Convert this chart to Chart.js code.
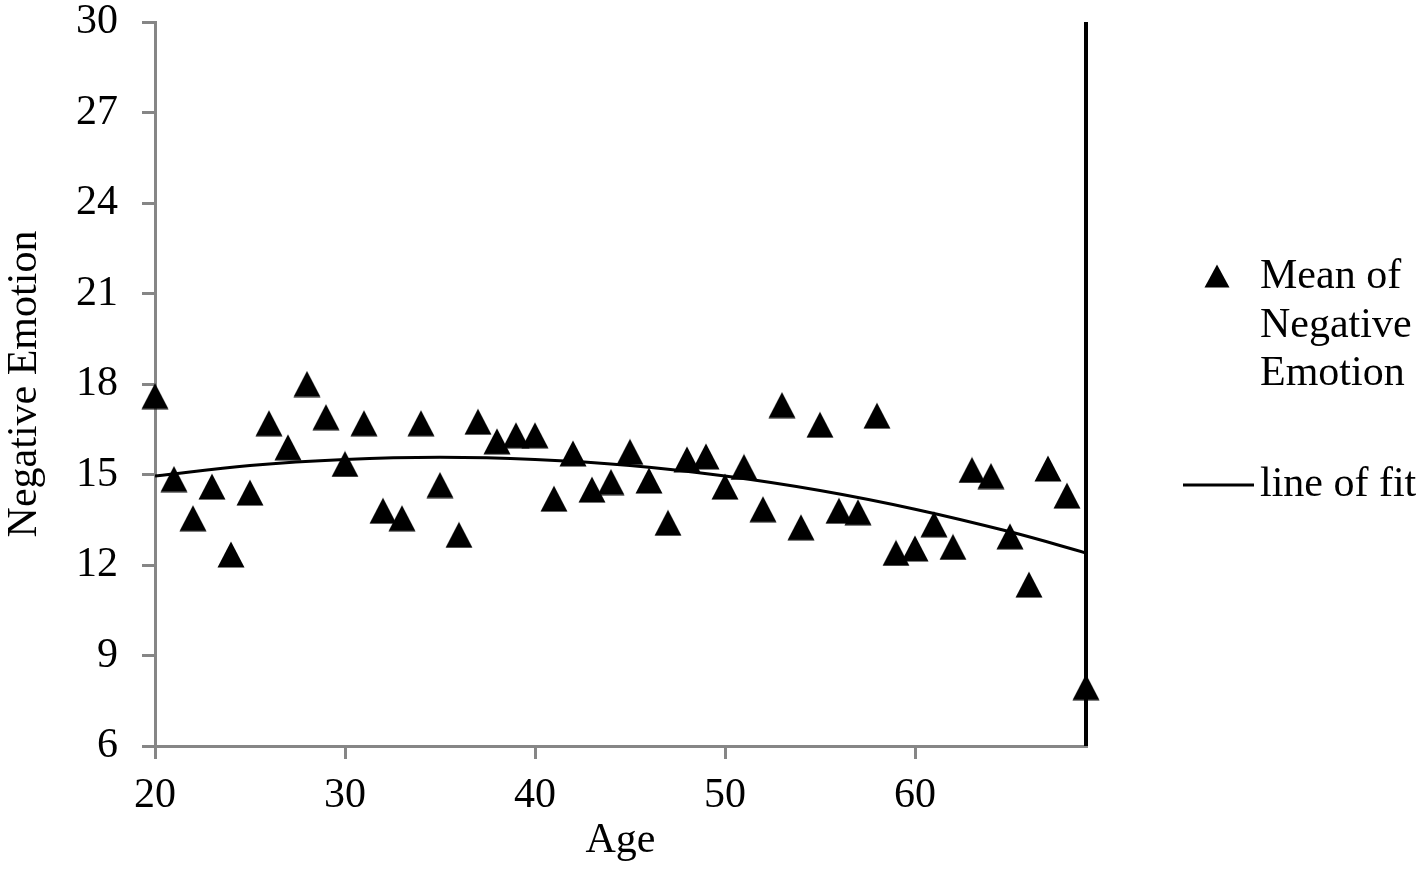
<!DOCTYPE html>
<html>
<head>
<meta charset="utf-8">
<script src="https://cdn.jsdelivr.net/npm/chart.js@4.4.1/dist/chart.umd.min.js"></script>
<style>
    body { margin: 0; background: #ffffff; }
    #wrap { width: 1421px; height: 871px; }
</style>
</head>
<body>
<div id="wrap"><canvas id="scatter-chart" width="1421" height="871"></canvas></div>
<script>
// Ages on the x axis
const ages = [
    20, 21, 22, 23, 24, 25, 26, 27, 28, 29,
    30, 31, 32, 33, 34, 35, 36, 37, 38, 39,
    40, 41, 42, 43, 44, 45, 46, 47, 48, 49,
    50, 51, 52, 53, 54, 55, 56, 57, 58, 59,
    60, 61, 62, 63, 64, 65, 66, 67, 68, 69
];

// Mean of negative emotion per age
const meanNegEmotion = [
    17.6, 14.85, 13.55, 14.6, 12.35, 14.4, 16.7, 15.9, 18.0, 16.9,
    15.35, 16.7, 13.8, 13.55, 16.7, 14.65, 13.0, 16.75, 16.1, 16.3,
    16.3, 14.2, 15.7, 14.5, 14.75, 15.75, 14.8, 13.4, 15.5, 15.6,
    14.6, 15.25, 13.85, 17.3, 13.25, 16.65, 13.8, 13.75, 16.95, 12.4,
    12.55, 13.35, 12.6, 15.15, 14.95, 12.95, 11.35, 15.2, 14.3, 7.95
];

// Line of fit
const fitAges = [20, 25, 30, 35, 40, 45, 50, 55, 60, 65, 69];
const fitValues = [14.95, 15.3, 15.5, 15.57, 15.5, 15.3, 14.95, 14.47, 13.85, 13.1, 12.4];

// Axis ticks
const yTicks = [6, 9, 12, 15, 18, 21, 24, 27, 30];
const xTicks = [20, 30, 40, 50, 60];

const legendLabels = [['Mean of', 'Negative', 'Emotion'], ['line of fit']];

const FONT = '"Liberation Serif", "Times New Roman", serif';
const FONT_SIZE = 42;
const AXIS_GREY = '#868686';

// Excel-like triangle marker, centred on its bounding box
function makeTriangle(w, h) {
    const c = document.createElement('canvas');
    c.width = w;
    c.height = h;
    const g = c.getContext('2d');
    g.fillStyle = '#000000';
    g.beginPath();
    g.moveTo(w / 2, 0.5);
    g.lineTo(w - 0.5, h - 0.5);
    g.lineTo(0.5, h - 0.5);
    g.closePath();
    g.fill();
    return c;
}

const triangleMarker = makeTriangle(28, 27);

// Thick black line on the right edge of the plot
const rightEdgePlugin = {
    id: 'rightEdge',
    beforeDatasetsDraw(chart) {
        const { ctx, chartArea } = chart;
        ctx.save();
        ctx.strokeStyle = '#000000';
        ctx.lineWidth = 4;
        ctx.beginPath();
        ctx.moveTo(chartArea.right, chartArea.top);
        ctx.lineTo(chartArea.right, chartArea.bottom);
        ctx.stroke();
        ctx.restore();
    }
};

// Legend drawn by hand to match the layout of the original
const legendPlugin = {
    id: 'sideLegend',
    afterDraw(chart) {
        const ctx = chart.ctx;
        ctx.save();
        ctx.fillStyle = '#000000';
        ctx.font = FONT_SIZE + 'px ' + FONT;
        ctx.textBaseline = 'alphabetic';
        ctx.textAlign = 'left';

        ctx.drawImage(makeTriangle(26, 24), 1204, 264);
        legendLabels[0].forEach((line, i) => {
            ctx.fillText(line, 1260, 288 + i * 48.5);
        });

        ctx.strokeStyle = '#000000';
        ctx.lineWidth = 3;
        ctx.beginPath();
        ctx.moveTo(1183, 485);
        ctx.lineTo(1254, 485);
        ctx.stroke();
        ctx.fillText(legendLabels[1][0], 1260, 496);
        ctx.restore();
    }
};

function initializeChart() {
    const ctx = document.getElementById('scatter-chart').getContext('2d');

    new Chart(ctx, {
        type: 'scatter',
        data: {
            datasets: [
                {
                    label: 'Mean of Negative Emotion',
                    data: ages.map((a, i) => ({ x: a, y: meanNegEmotion[i] })),
                    pointStyle: triangleMarker,
                    clip: false,
                    order: 0
                },
                {
                    label: 'line of fit',
                    type: 'line',
                    data: fitAges.map((a, i) => ({ x: a, y: fitValues[i] })),
                    borderColor: '#000000',
                    borderWidth: 3,
                    pointRadius: 0,
                    tension: 0.4,
                    fill: false,
                    order: 1
                }
            ]
        },
        options: {
            responsive: false,
            animation: false,
            devicePixelRatio: 1,
            layout: {
                padding: { top: 22, right: 335, bottom: 0, left: 0 }
            },
            scales: {
                x: {
                    type: 'linear',
                    min: 20,
                    max: 69,
                    afterFit(scale) {
                        scale.height = 125;
                        scale.paddingLeft = 0;
                        scale.paddingRight = 0;
                    },
                    afterBuildTicks(scale) {
                        scale.ticks = xTicks.map(v => ({ value: v }));
                    },
                    ticks: {
                        font: { family: FONT, size: FONT_SIZE },
                        color: '#000000',
                        padding: 12,
                        maxRotation: 0
                    },
                    grid: {
                        drawOnChartArea: false,
                        drawTicks: true,
                        tickLength: 13,
                        color: AXIS_GREY,
                        lineWidth: 3
                    },
                    border: { display: true, color: AXIS_GREY, width: 3 },
                    title: {
                        display: true,
                        text: 'Age',
                        font: { family: FONT, size: FONT_SIZE },
                        color: '#000000',
                        padding: { top: 0, bottom: 5 }
                    }
                },
                y: {
                    type: 'linear',
                    min: 6,
                    max: 30,
                    afterFit(scale) {
                        scale.width = 155;
                        scale.paddingTop = 0;
                        scale.paddingBottom = 0;
                    },
                    afterBuildTicks(scale) {
                        scale.ticks = yTicks.map(v => ({ value: v }));
                    },
                    ticks: {
                        font: { family: FONT, size: FONT_SIZE },
                        color: '#000000',
                        padding: 24
                    },
                    grid: {
                        drawOnChartArea: false,
                        drawTicks: true,
                        tickLength: 13,
                        color: AXIS_GREY,
                        lineWidth: 3
                    },
                    border: { display: true, color: AXIS_GREY, width: 3 },
                    title: {
                        display: true,
                        text: 'Negative Emotion',
                        font: { family: FONT, size: FONT_SIZE },
                        color: '#000000',
                        padding: { top: 0, bottom: 0 }
                    }
                }
            },
            plugins: {
                legend: { display: false },
                tooltip: { enabled: false }
            }
        },
        plugins: [rightEdgePlugin, legendPlugin]
    });
}

document.addEventListener('DOMContentLoaded', function() {
    initializeChart();
});
</script>
</body>
</html>
